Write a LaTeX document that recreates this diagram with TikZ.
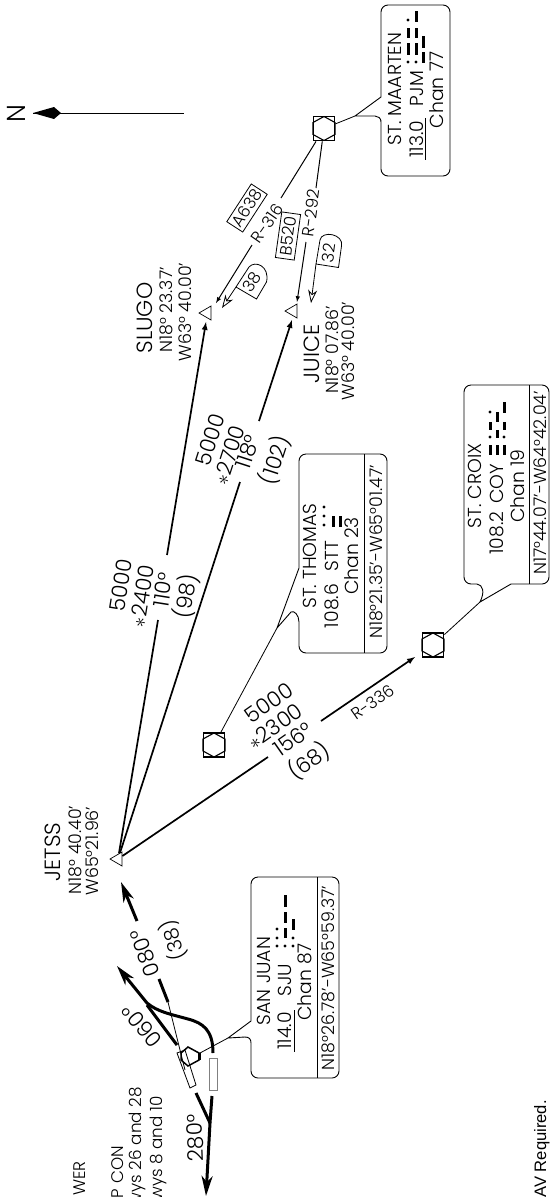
\documentclass[tikz,border=0pt]{standalone}
\usepackage{fontspec}
\setmainfont{Poppins Light}
\newfontfamily\notefont{Liberation Sans}
\usetikzlibrary{arrows.meta,shapes.geometric}
\tikzset{
  boxline/.style={line width=0.9pt},
  airway/.style={line width=1.7pt},
  heavy/.style={line width=3pt},
  thinline/.style={line width=0.8pt},
  dah/.style={line width=3pt},
  fix/.style={draw,line width=0.7pt,isosceles triangle,isosceles triangle stretches,shape border rotate=180,minimum width=14pt,minimum height=12pt,inner sep=0pt},
  vorbox/.style={draw,line width=1.8pt,minimum width=21pt,minimum height=24pt,inner sep=0pt},
  hexa/.pic={\draw[line width=1.1pt] (0,-12) -- (11,-6) -- (11,6) -- (0,12) -- (-11,6) -- (-11,-6) -- cycle;},
  boxtext/.style={rotate=90,inner sep=0pt,font=\fontsize{18.8}{19}\selectfont},
  notetext/.style={rotate=90,inner sep=0pt,anchor=east,font=\fontsize{16.8}{17}\selectfont},
  coordtext/.style={rotate=90,inner sep=0pt,font=\fontsize{17.4}{18}\selectfont},
  fixname/.style={rotate=90,inner sep=0pt,font=\fontsize{22}{22}\selectfont},
  routetext/.style={inner sep=0pt,font=\fontsize{21.5}{22}\selectfont},
  smalltext/.style={inner sep=0pt,font=\fontsize{16.5}{17}\selectfont},
  barb/.style={-{Stealth[length=20pt,width=11pt,inset=6pt]}},
  openbarb/.style={-{Stealth[open,fill=white,length=13pt,width=9pt,inset=4pt]}}
}
\newcommand{\dahs}[2]{\foreach \a/\b in {#2} \draw[dah] (#1,\a) -- (#1,\b);}
\newcommand{\dits}[2]{\foreach \a in {#2} \fill (#1,\a) circle (1.6);}
\begin{document}
\begin{tikzpicture}[x=1pt,y=-1pt]
  \useasboundingbox (0,0) rectangle (551,1197);
  \fill[white] (0,0) rectangle (551,1197);

  % north arrow
  \node[rotate=90,inner sep=0pt,font=\fontsize{26}{26}\selectfont] (north) at (16,114) {N};
  \coordinate (northtip) at (33,113);
  \coordinate (northend) at (184,113);
  \draw[line width=1pt] (northtip) -- (northend);
  \fill (northtip) -- (54,107) -- (61,113) -- (54,119) -- cycle;

  % fixes
  \node[fix] (jetss) at (118,859) {};
  \node[fix] (slugo) at (207,313) {};
  \node[fix] (juice) at (293,311) {};
  \node[fixname] (jetssname) at (53,852) {JETSS};
  \node[coordtext] (jetsslat) at (75,850) {N18° 40.40'};
  \node[coordtext] (jetsslon) at (92,851) {W65°21.96'};
  \node[fixname] (slugoname) at (145,318) {SLUGO};
  \node[coordtext] (slugolat) at (166,310) {N18° 23.37'};
  \node[coordtext] (slugolon) at (185,312) {W63° 40.00'};
  \node[fixname] (juicename) at (312,354) {JUICE};
  \node[coordtext] (juicelat) at (332,350) {N18° 07.86'};
  \node[coordtext] (juicelon) at (348,351) {W63° 40.00'};

  % VOR symbols
  \node[vorbox] (thomas) at (214,745) {};
  \pic at (214,745) {hexa};
  \node[vorbox] (croix) at (433,645) {};
  \pic at (433,645) {hexa};
  \node[vorbox] (maarten) at (324,128.5) {};
  \pic at (324,128.5) {hexa};

  % JETSS to SLUGO
  \coordinate (slugoa) at (158,620);
  \coordinate (slugob) at (167,555);
  \coordinate (slugotip) at (206,322);
  \draw[airway] (jetss) -- (slugoa);
  \draw[airway,-latex] (slugob) -- (slugotip);
  \node[routetext,rotate=81] (slugoalt) at (121,585) {5000};
  \node[routetext,rotate=81] (slugomea) at (142,596) {$\ast$2400};
  \node[routetext,rotate=81] (slugocrs) at (163,590) {110°};
  \node[routetext,rotate=81] (slugodist) at (186,596) {(98)};

  % JETSS to JUICE
  \coordinate (juicea) at (240,482);
  \coordinate (juiceb) at (259,421);
  \coordinate (juicetip) at (292,320);
  \draw[airway] (jetss) -- (juicea);
  \draw[airway,-latex] (juiceb) -- (juicetip);
  \node[routetext,rotate=72] (juicealt) at (210,440) {5000};
  \node[routetext,rotate=72] (juicemea) at (229,455) {$\ast$2700};
  \node[routetext,rotate=72] (juicecrs) at (248,452) {118°};
  \node[routetext,rotate=72] (juicedist) at (275,460) {(102)};

  % JETSS to ST. CROIX
  \coordinate (croixa) at (268,757);
  \coordinate (croixb) at (321,721);
  \coordinate (croixtip) at (415,657);
  \draw[airway] (jetss) -- (croixa);
  \draw[airway,-latex] (croixb) -- (croixtip);
  \node[routetext,rotate=35] (croixalt) at (269,703) {5000};
  \node[routetext,rotate=35] (croixmea) at (275,726) {$\ast$2300};
  \node[routetext,rotate=35] (croixcrs) at (293,739) {156°};
  \node[routetext,rotate=35] (croixdist) at (309,761) {(68)};
  \node[smalltext,rotate=35] (croixrad) at (373,702) {R-336};

  % ST. MAARTEN airways
  \coordinate (mslugoa) at (281,198);
  \coordinate (mslugob) at (252,245);
  \coordinate (mslugotip) at (216,303);
  \draw[line width=1pt] (maarten) -- (mslugoa);
  \draw[line width=1pt,-latex] (mslugob) -- (mslugotip);
  \coordinate (mjuicea) at (316,188);
  \coordinate (mjuiceb) at (306,242);
  \coordinate (mjuicetip) at (297,302);
  \draw[line width=1pt] (maarten) -- (mjuicea);
  \draw[line width=1pt,-latex] (mjuiceb) -- (mjuicetip);
  \node[smalltext,rotate=55] (mslugorad) at (267,223) {R-316};
  \node[smalltext,rotate=82] (mjuicerad) at (311,213) {R-292};
  \node[draw,thinline,smalltext,rotate=57,minimum width=45pt,minimum height=19pt] (aroute) at (247,208) {A638};
  \node[draw,thinline,smalltext,rotate=82,minimum width=46pt,minimum height=19pt] (broute) at (288,236) {B520};

  % distance tags
  \draw[thinline] (236,287) -- (249,267) .. controls (255,260) and (270,266) .. (266.5,282) -- (256.5,299) -- cycle;
  \draw[thinline,openbarb] (236,287) -- (222,308);
  \node[smalltext,rotate=57] (slugotag) at (252,282) {38};
  \draw[thinline] (316,264) -- (320,240) .. controls (322,230) and (344,234) .. (341.5,246) -- (338.5,267.5) -- cycle;
  \draw[thinline,openbarb] (316,264) -- (311,303);
  \node[smalltext,rotate=82] (juicetag) at (329,253) {32};

  % ST. THOMAS box
  \coordinate (thomastip) at (277,628);
  \draw[thinline] (thomas) -- (thomastip);
  \draw[boxline] (thomastip) -- (299,568) -- (299,461) [rounded corners=7pt] -- (299,454) -- (387,454) -- (387,653) -- (299,653) -- (299,628) [sharp corners] -- (299,622) .. controls (299,615) and (294,610) .. (291,612) -- (thomastip);
  \draw[boxline] (364,454) -- (364,653);
  \node[boxtext] (thomasname) at (310,556) {ST. THOMAS};
  \node[boxtext] (thomasfreq) at (332,606) {108.6};
  \node[boxtext] (thomasid) at (332,556) {STT};
  \node[boxtext] (thomaschan) at (352,556) {Chan 23};
  \node[coordtext] (thomascoord) at (376,552) {N18°21.35'-W65°01.47'};
  \dits{324}{507,516,525}
  \dahs{333}{516/527}
  \dahs{340}{516/527}

  % ST. CROIX box
  \coordinate (croixptr) at (480,602);
  \draw[thinline] (croix) -- (croixptr);
  \draw[boxline] (croixptr) -- (511,584) [rounded corners=7pt] -- (549,584) -- (549,385) -- (464,385) -- (464,584) [sharp corners] -- (472,584) -- (477,584) .. controls (483,585) and (485,592) .. (croixptr);
  \draw[boxline] (529,385) -- (529,584);
  \node[boxtext] (croixname) at (475,486) {ST. CROIX};
  \node[boxtext] (croixfreq) at (497,533) {108.2};
  \node[boxtext] (croixid) at (497,484) {COY};
  \node[boxtext] (croixchan) at (518,486) {Chan 19};
  \node[coordtext] (croixcoord) at (540,483) {N17°44.07'-W64°42.04'};
  \dahs{490}{445/455,422/430}
  \dits{490}{437,412}
  \dahs{497}{445/455,430/438,412/422}
  \dahs{504}{445/455,422/430,402/413}
  \dits{504}{437}

  % ST. MAARTEN box
  \coordinate (maartentip) at (355,116);
  \draw[thinline] (maarten) -- (maartentip);
  \draw[boxline] (maartentip) -- (381,97) [rounded corners=7pt] -- (381,5) -- (450,5) -- (450,176) -- (381,176) -- (381,116) [sharp corners] -- (381,123) (381,122) .. controls (381,118) and (378,116) .. (375,116) -- (maartentip);
  \node[boxtext] (maartenname) at (395,89) {ST. MAARTEN};
  \node[boxtext] (maartenfreq) at (417,139) {113.0};
  \node[boxtext] (maartenid) at (417,89) {PJM};
  \node[boxtext] (maartenchan) at (437,90) {Chan 77};
  \draw[thinline] (425.5,118) -- (425.5,160);
  \dits{408}{62,20}
  \dahs{408}{43/55,28/38}
  \dits{416}{62}
  \dahs{416}{43/55,28/38,11/22}
  \dahs{423}{52/63,36/48}

  % SAN JUAN box
  \coordinate (juantip) at (228,1038);
  \draw[thinline] (200,1053) -- (juantip);
  \draw[boxline] (juantip) -- (251,1021) [rounded corners=7pt] -- (251,877) -- (339,877) -- (339,1078) -- (251,1078) -- (251,1050) [sharp corners] -- (251,1043) .. controls (251,1039) and (249,1037) .. (245,1037) -- (juantip);
  \draw[boxline] (317,877) -- (317,1078);
  \node[boxtext] (juanname) at (264,981) {SAN JUAN};
  \node[boxtext] (juanfreq) at (285,1031) {114.0};
  \node[boxtext] (juanid) at (285,980) {SJU};
  \node[boxtext] (juanchan) at (305,982) {Chan 87};
  \node[coordtext] (juancoord) at (328,978) {N18°26.78'-W65°59.37'};
  \draw[thinline] (294,1010) -- (294,1052);
  \dits{277}{929,938,946}
  \dits{285}{946}
  \dahs{285}{928/938,912/923,895/907}
  \dits{293}{946,938}
  \dahs{293}{919/930}

  % departure tracks
  \draw[thinline] (177,1053) -- (185,1050) -- (196,1085) -- (190,1088) -- cycle;
  \draw[gray,line width=1pt] (209,1058) rectangle (217,1090);
  \draw[line width=1.5pt] (188,1047) -- (199,1053) -- (199,1060) -- (188,1066) -- (181,1060) -- (181,1053) -- cycle;
  \draw[dah] (199,1053) -- (199,1060);
  \draw[thinline] (168,1002) -- (185,1070);
  \draw[heavy] (159,979) -- (168,1002);
  \draw[heavy,barb] (137,921) -- (121,882);
  \draw[heavy] (177,1045) -- (147,1005);
  \draw[heavy,barb] (213,1053) .. controls (213,1030) and (203,1023) .. (188,1019) .. controls (170,1014) and (158,1012) .. (147,1003) -- (117,966);
  \draw[heavy] (196,1093) -- (210,1123);
  \draw[heavy] (212,1096) -- (210,1123);
  \draw[heavy,barb] (210,1123) -- (206,1196);

  \node[routetext,rotate=110] (outcrs) at (145,953) {080°};
  \node[routetext,rotate=108,font=\fontsize{20}{20}\selectfont] (outdist) at (173,940) {(38)};
  \node[routetext,rotate=130] (leftcrs) at (142,1026) {060°};
  \node[routetext,rotate=92] (rightcrs) at (195,1138) {280°};

  % notes at the foot
  \node[notetext] (towernote) at (80,1161) {WER};
  \node[notetext] (appnote) at (118,1146) {P CON};
  \node[notetext] (rwynote) at (137,1087) {wys 26 and 28};
  \node[notetext] (rwbnote) at (158,1096) {wys 8 and 10};
  \node[rotate=90,inner sep=0pt,anchor=base east,font=\notefont\fontsize{16.6}{17}\selectfont] (rnavnote) at (546,1100) {AV Required.};
\end{tikzpicture}
\end{document}
